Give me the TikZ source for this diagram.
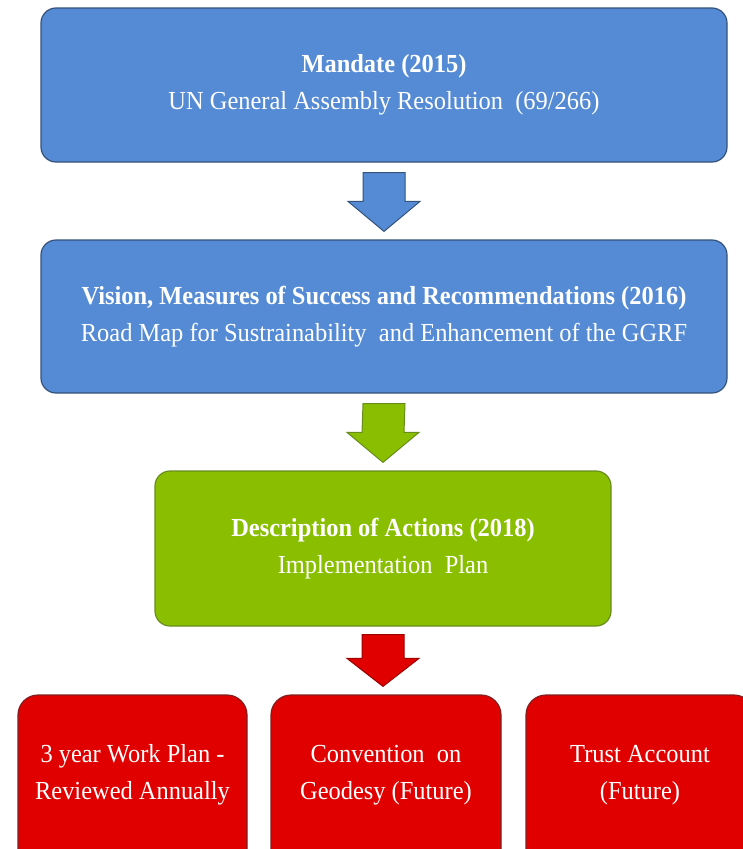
\documentclass[tikz,border=0pt]{standalone}
\usepackage{fontspec}
\setmainfont{Liberation Serif}[FakeStretch=0.94]
\usetikzlibrary{calc}
\definecolor{bfill}{RGB}{85,139,213}
\definecolor{bdraw}{RGB}{52,82,122}
\definecolor{gfill}{RGB}{137,191,0}
\definecolor{gdraw}{RGB}{104,140,30}
\definecolor{rfill}{RGB}{224,0,0}
\definecolor{rdraw}{RGB}{130,30,30}
\tikzset{
  boxtext/.style={text=white, align=center, font=\fontsize{26}{37}\selectfont},
  box/.style={rectangle, rounded corners=15pt, line width=1.2pt, boxtext, inner sep=0pt},
  bluebox/.style={box, fill=bfill, draw=bdraw},
  greenbox/.style={box, fill=gfill, draw=gdraw},
  redbox/.style={box, fill=rfill, draw=rdraw, rounded corners=20pt,
    minimum height=184pt},
  redtext/.style={boxtext, inner sep=0pt, yshift=12pt},
  blockarrow/.style={line width=1pt, line join=miter}
}
\begin{document}
\begin{tikzpicture}[x=1pt,y=-1pt]
\useasboundingbox (0,0) rectangle (743,849);
\node[bluebox, minimum width=686pt, minimum height=154pt] (m) at (384,85)
  {\textbf{Mandate (2015)}\\UN General Assembly Resolution\ \ (69/266)};
\node[bluebox, minimum width=686pt, minimum height=153pt] (v) at (384,316.5)
  {\textbf{Vision, Measures of Success and Recommendations (2016)}\\Road Map for Sustrainability\ \ and Enhancement of the GGRF};
\node[greenbox, minimum width=456pt, minimum height=155pt] (d) at (383,548.5)
  {\textbf{Description of Actions (2018)}\\Implementation\ \ Plan};
\node[redbox, minimum width=229pt,
  label={[redtext]center:3 year Work Plan -\\Reviewed Annually}] (w) at (132.5,787) {};
\node[redbox, minimum width=230pt,
  label={[redtext]center:Convention\ \ on\\Geodesy (Future)}] (c) at (386,787) {};
\node[redbox, minimum width=228pt,
  label={[redtext]center:Trust Account\\(Future)}] (t) at (640,787) {};
% block arrows
\coordinate (a1s) at ($(m.south)+(0,10)$);
\coordinate (a1t) at ($(v.north)+(0,-8)$);
\coordinate (a2s) at ($(v.south)+(0,10)$);
\coordinate (a2t) at ($(d.north)+(0,-8)$);
\coordinate (a3s) at ($(d.south)+(0,8)$);
\coordinate (a3t) at ($(c.north)+(-3,-8)$);
\draw[blockarrow, fill=bfill, draw=bdraw]
  ($(a1s)+(-21,0)$) -- ($(a1s)+(21,0)$) -- ($(a1t)+(21,-30)$) -- ($(a1t)+(36,-30)$)
  -- (a1t) -- ($(a1t)+(-36,-30)$) -- ($(a1t)+(-21,-30)$) -- cycle;
\draw[blockarrow, fill=gfill, draw=gdraw]
  ($(a2s)+(-21,0)$) -- ($(a2s)+(21,0)$) -- ($(a2t)+(21,-30)$) -- ($(a2t)+(36,-30)$)
  -- (a2t) -- ($(a2t)+(-36,-30)$) -- ($(a2t)+(-21,-30)$) -- cycle;
\draw[blockarrow, fill=rfill, draw=rfill!70!black]
  ($(a3s)+(-21,0)$) -- ($(a3s)+(21,0)$) -- ($(a3t-|a3s)+(21,-28)$) -- ($(a3t-|a3s)+(36,-28)$)
  -- (a3t-|a3s) -- ($(a3t-|a3s)+(-36,-28)$) -- ($(a3t-|a3s)+(-21,-28)$) -- cycle;
\end{tikzpicture}
\end{document}
